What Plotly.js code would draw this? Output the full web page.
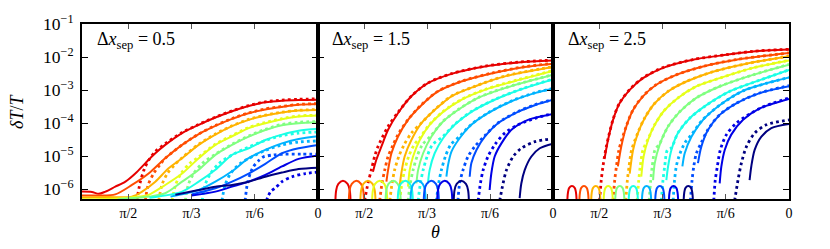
<!DOCTYPE html>
<html>
<head>
<meta charset="utf-8">
<script src="https://cdn.plot.ly/plotly-3.0.1.min.js"></script>
<style>html,body{margin:0;padding:0;background:#fff;}#chart{width:830px;height:249px;}</style>
</head>
<body>
<div id="chart"></div>
<script>
// ---------- tick labels / categories ----------
const thetaTickVals = [90, 60, 30, 0];          // degrees
const thetaTickText = ['π/2', 'π/3', 'π/6', '0'];
const sepLabels = ['0.5', '1.5', '2.5'];
const minorTickVals = [6e-7, 7e-7, 8e-7, 9e-7,
  2e-6, 3e-6, 4e-6, 5e-6, 6e-6, 7e-6, 8e-6, 9e-6,
  2e-5, 3e-5, 4e-5, 5e-5, 6e-5, 7e-5, 8e-5, 9e-5,
  2e-4, 3e-4, 4e-4, 5e-4, 6e-4, 7e-4, 8e-4, 9e-4,
  2e-3, 3e-3, 4e-3, 5e-3, 6e-3, 7e-3, 8e-3, 9e-3,
  2e-2, 3e-2, 4e-2, 5e-2, 6e-2, 7e-2, 8e-2, 9e-2];

// ---------- panel 1 (Δx_sep = 0.5) : theta in degrees, δT/T values ----------
const p1SolidT = [
  [112, 107.3, 104.1, 100.9, 96.2, 91.4, 86.7, 81.9, 77.2, 72.5, 64.5, 56.6, 48.7, 40.8, 32.9, 25.0, 17.1, 9.2, 0],
  [112, 104, 96.2, 88.3, 80.4, 72.5, 64.5, 56.6, 48.7, 40.8, 32.9, 25.0, 17.1, 9.2, 0],
  [112, 100, 88.3, 83.5, 77.2, 70.9, 64.5, 56.6, 48.7, 40.8, 32.9, 25.0, 17.1, 9.2, 0],
  [112, 95, 85, 80.4, 72.5, 64.5, 56.6, 48.7, 40.8, 32.9, 25.0, 17.1, 9.2, 0],
  [95, 80, 72.5, 64.5, 56.6, 48.7, 40.8, 32.9, 25.0, 17.1, 9.2, 0],
  [80, 64.5, 56.6, 48.7, 40.8, 32.9, 25.0, 17.1, 9.2, 0],
  [70, 56.6, 48.7, 40.8, 32.9, 25.0, 17.1, 9.2, 0],
  [60, 48.7, 40.8, 32.9, 25.0, 17.1, 9.2, 0],
  [60, 48.7, 40.8, 32.9, 25.0, 17.1, 9.2, 0],
  [67.7, 56.6, 48.7, 40.8, 32.9, 25.0, 17.1, 9.2, 0]
];
const p1SolidV = [
  [8.5e-7, 8.3e-7, 7.3e-7, 8.5e-7, 1.2e-6, 1.7e-6, 3.0e-6, 6.2e-6, 1.23e-5, 2.2e-5, 5.0e-5, 8.9e-5, 1.48e-4, 2.3e-4, 3.3e-4, 4.3e-4, 4.8e-4, 5.0e-4, 5.1e-4],
  [6.5e-7, 6.5e-7, 7.0e-7, 1.35e-6, 3.0e-6, 8.7e-6, 2.2e-5, 4.7e-5, 8.3e-5, 1.35e-4, 2.0e-4, 2.6e-4, 3.1e-4, 3.6e-4, 3.8e-4],
  [5.6e-7, 5.8e-7, 6.0e-7, 8.5e-7, 1.7e-6, 4.3e-6, 8.7e-6, 2.2e-5, 4.5e-5, 8.1e-5, 1.26e-4, 1.7e-4, 2.1e-4, 2.4e-4, 2.5e-4],
  [5.0e-7, 5.3e-7, 6.0e-7, 6.8e-7, 1.35e-6, 3.0e-6, 8.7e-6, 2.2e-5, 4.0e-5, 7.1e-5, 1.0e-4, 1.32e-4, 1.6e-4, 1.7e-4],
  [5.0e-7, 6.0e-7, 7.6e-7, 1.7e-6, 3.9e-6, 1.1e-5, 2.2e-5, 3.9e-5, 6.2e-5, 8.7e-5, 1.0e-4, 1.07e-4],
  [5.5e-7, 8.5e-7, 1.7e-6, 3.9e-6, 1.1e-5, 1.74e-5, 3.1e-5, 4.5e-5, 5.9e-5, 6.8e-5],
  [6.0e-7, 9.5e-7, 1.7e-6, 3.5e-6, 8.7e-6, 1.55e-5, 2.45e-5, 3.3e-5, 4.0e-5],
  [7.0e-7, 1.07e-6, 1.7e-6, 3.0e-6, 5.9e-6, 1.23e-5, 1.74e-5, 2.2e-5],
  [6.5e-7, 8.5e-7, 1.2e-6, 1.7e-6, 2.7e-6, 4.9e-6, 8.3e-6, 1.05e-5],
  [6.8e-7, 9.5e-7, 1.2e-6, 1.35e-6, 1.7e-6, 2.4e-6, 3.2e-6, 4.1e-6, 4.5e-6]
];
const p1DotT = [
  [86, 84.5, 82.5, 80.4, 77.2, 72.5, 64.5, 56.6, 48.7, 40.8, 32.9, 25.0, 17.1, 9.2, 0],
  [82, 80.5, 78, 75, 72.5, 64.5, 56.6, 48.7, 40.8, 32.9, 25.0, 17.1, 9.2, 0],
  [75.6, 74, 71.5, 68, 64.5, 56.6, 48.7, 40.8, 32.9, 25.0, 17.1, 9.2, 0],
  [69.3, 67.5, 65, 61, 56.6, 48.7, 40.8, 32.9, 25.0, 17.1, 9.2, 0],
  [63, 61.5, 59, 55, 48.7, 40.8, 32.9, 25.0, 17.1, 9.2, 0],
  [55, 53.5, 51, 47, 40.8, 32.9, 25.0, 17.1, 9.2, 0],
  [45.6, 44, 41.5, 37, 32.9, 25.0, 17.1, 9.2, 0],
  [34.6, 33.5, 32, 30.7, 28, 26, 21, 16.5, 8, 0],
  [24.5, 22.5, 20.2, 17.1, 12.3, 6, 0],
  []
];
const p1DotV = [
  [4.5e-7, 1.5e-6, 4.0e-6, 7.5e-6, 1.4e-5, 2.4e-5, 5.2e-5, 9.2e-5, 1.52e-4, 2.35e-4, 3.4e-4, 4.4e-4, 5.0e-4, 5.3e-4, 5.4e-4],
  [4.5e-7, 1.4e-6, 3.0e-6, 5.5e-6, 8.7e-6, 2.2e-5, 4.7e-5, 8.5e-5, 1.38e-4, 2.05e-4, 2.7e-4, 3.2e-4, 3.7e-4, 3.9e-4],
  [4.5e-7, 1.4e-6, 3.0e-6, 5.5e-6, 9.0e-6, 2.3e-5, 4.7e-5, 8.3e-5, 1.3e-4, 1.75e-4, 2.15e-4, 2.45e-4, 2.6e-4],
  [4.5e-7, 1.4e-6, 3.0e-6, 6.0e-6, 9.5e-6, 2.3e-5, 4.2e-5, 7.4e-5, 1.05e-4, 1.37e-4, 1.65e-4, 1.75e-4],
  [4.5e-7, 1.4e-6, 3.0e-6, 6.0e-6, 1.15e-5, 2.3e-5, 4.1e-5, 6.5e-5, 9.2e-5, 1.07e-4, 1.12e-4],
  [4.5e-7, 1.4e-6, 3.0e-6, 6.0e-6, 1.1e-5, 1.9e-5, 3.0e-5, 4.2e-5, 5.0e-5, 5.4e-5],
  [4.5e-7, 1.4e-6, 3.0e-6, 6.0e-6, 8.5e-6, 1.5e-5, 2.2e-5, 2.7e-5, 2.9e-5],
  [4.5e-7, 1.5e-6, 3.2e-6, 4.8e-6, 7.5e-6, 9.5e-6, 1.1e-5, 1.15e-5, 1.15e-5, 1.15e-5],
  [4.5e-7, 8.5e-7, 1.1e-6, 1.7e-6, 2.4e-6, 3.0e-6, 3.3e-6],
  []
];

// ---------- panel 2 (Δx_sep = 1.5) ----------
const p2SolidT = [
  [85.8, 84.2, 81.8, 78.6, 73.9, 67.5, 59.6, 48.4, 32.5, 16.7, 0],
  [79.4, 78.6, 77.0, 73.9, 69.1, 62.7, 54.8, 43.7, 29.4, 13.5, 0],
  [73.1, 72.3, 70.7, 67.5, 62.7, 56.4, 48.4, 37.3, 23.0, 0],
  [69.1, 68.3, 66.7, 63.5, 58.8, 52.4, 43.7, 32.5, 16.7, 0],
  [65.1, 64.3, 61.9, 58.0, 52.4, 45.3, 35.7, 23.0, 0],
  [59.6, 58.8, 56.4, 52.4, 46.9, 38.9, 27.8, 13.5, 0],
  [50.8, 50.0, 48.4, 44.5, 38.9, 31.0, 19.8, 8.7, 0],
  [39.7, 38.9, 36.5, 32.5, 26.2, 16.7, 8.7, 0],
  [30.2, 29.4, 27.8, 24.6, 19.8, 11.9, 0],
  [15.9, 15.1, 13.5, 10.3, 6.3, 0]
];
const p2SolidV = [
  [3.4e-6, 7.8e-6, 1.95e-5, 6.3e-5, 2.0e-4, 6.5e-4, 1.62e-3, 3.1e-3, 5.2e-3, 6.9e-3, 7.9e-3],
  [1.7e-6, 3.8e-6, 1.23e-5, 3.9e-5, 1.26e-4, 3.5e-4, 9.1e-4, 1.82e-3, 3.2e-3, 5.0e-3, 6.3e-3],
  [1.2e-6, 3.0e-6, 9.8e-6, 3.1e-5, 1.0e-4, 2.5e-4, 6.5e-4, 1.29e-3, 2.6e-3, 5.0e-3],
  [1.2e-6, 3.8e-6, 9.8e-6, 3.1e-5, 8.9e-5, 2.2e-4, 5.1e-4, 1.02e-3, 2.0e-3, 3.8e-3],
  [1.5e-6, 3.8e-6, 1.23e-5, 3.9e-5, 1.12e-4, 2.5e-4, 5.8e-4, 1.15e-3, 2.9e-3],
  [1.5e-6, 3.8e-6, 1.23e-5, 3.5e-5, 8.9e-5, 2.2e-4, 5.1e-4, 1.15e-3, 2.1e-3],
  [2.4e-6, 5.5e-6, 1.38e-5, 3.5e-5, 8.9e-5, 2.0e-4, 4.6e-4, 8.1e-4, 1.1e-3],
  [2.4e-6, 6.2e-6, 1.55e-5, 3.9e-5, 1.0e-4, 2.2e-4, 3.5e-4, 5.1e-4],
  [9.5e-7, 3.0e-6, 9.8e-6, 2.45e-5, 6.3e-5, 1.26e-4, 1.9e-4],
  [5.4e-7, 1.5e-6, 3.8e-6, 9.8e-6, 1.74e-5, 2.4e-5]
];
const p2DotT = [
  [89.8, 88.2, 86.6, 85.0, 83.4, 78.6, 73.9, 67.5, 59.6, 48.4, 32.5, 16.7, 0],
  [82.6, 81.5, 80.2, 78.6, 76.2, 73.9, 69.1, 62.7, 54.8, 43.7, 29.4, 13.5, 0],
  [77.8, 76.7, 75.5, 73.5, 71.0, 67.5, 62.7, 56.4, 48.4, 37.3, 23.0, 0],
  [73.1, 72.0, 70.7, 68.8, 66.2, 63.5, 58.8, 52.4, 43.7, 32.5, 16.7, 0],
  [69.1, 68.0, 66.7, 64.8, 62.3, 58.0, 52.4, 45.3, 35.7, 23.0, 0],
  [64.3, 63.2, 61.9, 60.0, 57.5, 52.4, 46.9, 38.9, 27.8, 13.5, 0],
  [55.6, 54.5, 53.2, 51.3, 48.8, 44.5, 38.9, 31.0, 19.8, 8.7, 0],
  [45.3, 44.5, 42.9, 40.5, 37.3, 32.5, 26.2, 16.7, 8.7, 0],
  [35.7, 34.6, 33.3, 31.0, 27.8, 23.0, 16.7, 8.7, 0],
  [25.4, 23.8, 22.2, 19.0, 15.1, 8.7, 0]
];
const p2DotV = [
  [4.5e-7, 1.5e-6, 3.8e-6, 9.8e-6, 1.95e-5, 8.0e-5, 2.1e-4, 6.6e-4, 1.65e-3, 3.15e-3, 5.3e-3, 7.0e-3, 8.1e-3],
  [4.5e-7, 1.5e-6, 3.8e-6, 9.8e-6, 2.2e-5, 4.5e-5, 1.28e-4, 3.6e-4, 9.3e-4, 1.85e-3, 3.25e-3, 5.1e-3, 6.4e-3],
  [4.5e-7, 1.5e-6, 3.8e-6, 9.8e-6, 2.2e-5, 5.0e-5, 1.02e-4, 2.55e-4, 6.6e-4, 1.3e-3, 2.65e-3, 5.1e-3],
  [4.5e-7, 1.5e-6, 3.8e-6, 9.8e-6, 2.2e-5, 3.6e-5, 9.2e-5, 2.25e-4, 5.2e-4, 1.04e-3, 2.05e-3, 3.9e-3],
  [4.5e-7, 1.5e-6, 3.8e-6, 9.8e-6, 2.2e-5, 4.3e-5, 1.15e-4, 2.55e-4, 5.9e-4, 1.17e-3, 2.95e-3],
  [4.5e-7, 1.5e-6, 3.8e-6, 9.8e-6, 2.2e-5, 4.0e-5, 9.2e-5, 2.25e-4, 5.2e-4, 1.17e-3, 2.15e-3],
  [4.5e-7, 1.5e-6, 3.8e-6, 9.8e-6, 2.2e-5, 4.0e-5, 9.2e-5, 2.05e-4, 4.7e-4, 8.3e-4, 1.12e-3],
  [4.5e-7, 1.5e-6, 3.8e-6, 9.8e-6, 1.95e-5, 4.2e-5, 1.02e-4, 2.25e-4, 3.6e-4, 5.2e-4],
  [4.5e-7, 1.5e-6, 3.8e-6, 9.8e-6, 2.2e-5, 5.0e-5, 8.9e-5, 1.4e-4, 1.95e-4],
  [4.5e-7, 1.5e-6, 3.8e-6, 9.8e-6, 1.74e-5, 2.75e-5, 3.4e-5]
];
const p2ArchT = [
  [103.7, 103.3, 102.3, 100.1, 97.9, 96.9, 96.5],
  [97.3, 96.9, 95.9, 93.7, 91.5, 90.5, 90.1],
  [91.8, 91.4, 90.4, 88.2, 86.0, 85.0, 84.6],
  [86.2, 85.8, 84.8, 82.6, 80.4, 79.4, 79.0],
  [79.8, 79.4, 78.4, 76.2, 74.0, 73.0, 72.6],
  [74.0, 73.6, 72.6, 70.4, 68.2, 67.2, 66.8],
  [67.9, 67.5, 66.5, 64.3, 62.1, 61.1, 60.7],
  [61.6, 61.2, 60.2, 58.0, 55.8, 54.8, 54.4],
  [55.2, 54.8, 53.8, 51.6, 49.4, 48.4, 48.0],
  [47.3, 46.9, 45.9, 43.7, 41.5, 40.5, 40.1]
];
const p2ArchV = [4.5e-7, 9.5e-7, 1.45e-6, 1.8e-6, 1.45e-6, 9.5e-7, 4.5e-7];

// ---------- panel 3 (Δx_sep = 2.5) ----------
const p3SolidT = [
  [87.5, 85.9, 83.5, 80.4, 75.6, 69.3, 59.8, 45.6, 29.7, 17.1, 0],
  [81.2, 79.6, 77.2, 74.0, 69.3, 63.0, 53.5, 40.8, 25.0, 0],
  [75.6, 74.0, 71.7, 68.5, 63.7, 57.4, 48.7, 36.1, 20.2, 0],
  [70.1, 69.0, 66.9, 63.7, 59.0, 52.7, 44.0, 32.9, 17.1, 0],
  [64.5, 63.7, 61.4, 57.4, 51.9, 44.0, 32.9, 17.1, 0],
  [58.2, 57.4, 55.8, 52.7, 47.1, 39.2, 28.2, 13.9, 0],
  [50.6, 49.5, 46.3, 40.8, 32.9, 21.8, 10.8, 0],
  [43.2, 41.6, 38.4, 32.9, 25.0, 13.9, 0],
  [32.9, 32.1, 30.5, 27.4, 21.8, 13.9, 0],
  [18.7, 17.9, 16.3, 13.1, 8.4, 0]
];
const p3SolidV = [
  [8.7e-6, 3.1e-5, 1.26e-4, 4.0e-4, 1.02e-3, 2.3e-3, 4.7e-3, 8.3e-3, 1.17e-2, 1.48e-2, 1.7e-2],
  [4.9e-6, 1.95e-5, 7.9e-5, 2.5e-4, 6.5e-4, 1.45e-3, 2.9e-3, 5.2e-3, 8.3e-3, 1.32e-2],
  [3.0e-6, 1.55e-5, 5.0e-5, 1.41e-4, 4.0e-4, 9.1e-4, 1.82e-3, 3.6e-3, 6.3e-3, 1.05e-2],
  [2.4e-6, 9.8e-6, 3.1e-5, 8.9e-5, 2.5e-4, 5.8e-4, 1.29e-3, 2.3e-3, 4.7e-3, 7.9e-3],
  [1.9e-6, 6.2e-6, 2.2e-5, 7.9e-5, 2.2e-4, 5.8e-4, 1.29e-3, 2.9e-3, 5.9e-3],
  [1.9e-6, 4.9e-6, 1.55e-5, 5.0e-5, 1.41e-4, 3.5e-4, 9.1e-4, 2.0e-3, 4.1e-3],
  [4.9e-6, 1.23e-5, 3.9e-5, 1.26e-4, 3.5e-4, 9.5e-4, 1.6e-3, 2.4e-3],
  [6.2e-6, 1.95e-5, 6.3e-5, 1.78e-4, 4.0e-4, 8.1e-4, 1.3e-3],
  [1.51e-6, 4.9e-6, 1.55e-5, 4.5e-5, 1.26e-4, 2.8e-4, 5.4e-4],
  [1.9e-6, 4.9e-6, 1.55e-5, 3.9e-5, 7.1e-5, 9.5e-5]
];
const p3DotT = [
  [89.9, 89.1, 88.3, 86.7, 83.5, 80.4, 75.6, 69.3, 59.8, 45.6, 29.7, 17.1, 0],
  [83.5, 82.7, 81.9, 80.7, 77.2, 74.0, 69.3, 63.0, 53.5, 40.8, 25.0, 0],
  [77.5, 76.7, 75.9, 74.7, 71.7, 68.5, 63.7, 57.4, 48.7, 36.1, 20.2, 0],
  [72.1, 71.3, 70.6, 69.3, 66.9, 63.7, 59.0, 52.7, 44.0, 32.9, 17.1, 0],
  [66.4, 65.6, 64.9, 63.6, 61.4, 57.4, 51.9, 44.0, 32.9, 17.1, 0],
  [60.6, 59.8, 59.0, 57.7, 55.8, 52.7, 47.1, 39.2, 28.2, 13.9, 0],
  [55.0, 54.3, 53.5, 52.2, 49.5, 46.3, 40.8, 32.9, 21.8, 10.8, 0],
  [46.8, 46.0, 45.2, 44.0, 41.6, 38.4, 32.9, 25.0, 13.9, 0],
  [35.7, 35.0, 34.0, 32.6, 29.7, 25.0, 13.9, 0],
  [25.8, 24.2, 22.6, 20.2, 16.3, 10.8, 0]
];
const p3DotV = [
  [4.5e-7, 1.9e-6, 4.9e-6, 1.95e-5, 1.3e-4, 4.1e-4, 1.04e-3, 2.35e-3, 4.8e-3, 8.4e-3, 1.18e-2, 1.49e-2, 1.72e-2],
  [4.5e-7, 1.9e-6, 4.9e-6, 1.55e-5, 8.2e-5, 2.55e-4, 6.6e-4, 1.47e-3, 2.9e-3, 5.2e-3, 8.4e-3, 1.33e-2],
  [4.5e-7, 1.9e-6, 4.9e-6, 1.55e-5, 5.2e-5, 1.44e-4, 4.0e-4, 9.2e-4, 1.83e-3, 3.6e-3, 6.3e-3, 1.06e-2],
  [4.5e-7, 1.9e-6, 4.9e-6, 1.55e-5, 3.3e-5, 9.1e-5, 2.5e-4, 5.8e-4, 1.3e-3, 2.3e-3, 4.7e-3, 8.0e-3],
  [4.5e-7, 1.9e-6, 4.9e-6, 1.55e-5, 2.4e-5, 8.0e-5, 2.2e-4, 5.8e-4, 1.3e-3, 2.9e-3, 6.0e-3],
  [4.5e-7, 1.9e-6, 4.9e-6, 1.55e-5, 1.8e-5, 5.1e-5, 1.42e-4, 3.5e-4, 9.1e-4, 2.0e-3, 4.1e-3],
  [4.5e-7, 1.9e-6, 4.9e-6, 1.0e-5, 2.5e-5, 4.5e-5, 1.3e-4, 3.5e-4, 9.5e-4, 1.6e-3, 2.4e-3],
  [4.5e-7, 1.9e-6, 4.9e-6, 1.2e-5, 2.6e-5, 6.5e-5, 1.8e-4, 4.0e-4, 8.2e-4, 1.36e-3],
  [4.5e-7, 1.9e-6, 4.9e-6, 1.55e-5, 4.5e-5, 1.0e-4, 2.8e-4, 5.8e-4],
  [4.5e-7, 1.9e-6, 6.2e-6, 1.95e-5, 5.0e-5, 8.9e-5, 1.26e-4]
];
const p3ArchT = [
  [105.2, 104.9, 104.3, 103.0, 101.7, 101.1, 100.8],
  [99.5, 99.2, 98.6, 97.3, 96.0, 95.4, 95.1],
  [93.9, 93.6, 93.0, 91.7, 90.4, 89.8, 89.5],
  [88.0, 87.7, 87.1, 85.8, 84.5, 83.9, 83.6],
  [82.5, 82.2, 81.6, 80.3, 79.0, 78.4, 78.1],
  [76.1, 75.8, 75.2, 73.9, 72.6, 72.0, 71.7],
  [69.8, 69.5, 68.9, 67.6, 66.3, 65.7, 65.4],
  [63.5, 63.2, 62.6, 61.3, 60.0, 59.4, 59.1],
  [57.0, 56.7, 56.1, 54.8, 53.5, 52.9, 52.6],
  [50.0, 49.7, 49.1, 47.8, 46.5, 45.9, 45.6]
];
const p3ArchV = [4.5e-7, 8.0e-7, 1.1e-6, 1.25e-6, 1.1e-6, 8.0e-7, 4.5e-7];

// ---------- styling ----------
const COLORS = ['#e60000', '#ff4d00', '#ffb300', '#e6ff1a', '#80ff80',
                '#1affe6', '#00b3ff', '#004dff', '#0000e6', '#000080'];
const FONT = '"Liberation Serif", "Times New Roman", Times, serif';

const panels = [
  {s: [p1SolidT, p1SolidV], d: [p1DotT, p1DotV], a: null},
  {s: [p2SolidT, p2SolidV], d: [p2DotT, p2DotV], a: [p2ArchT, p2ArchV]},
  {s: [p3SolidT, p3SolidV], d: [p3DotT, p3DotV], a: [p3ArchT, p3ArchV]}
];

const traces = [];
panels.forEach((P, pi) => {
  const xa = pi === 0 ? 'x' : 'x' + (pi + 1);
  const ya = pi === 0 ? 'y' : 'y' + (pi + 1);
  for (let c = 0; c < 10; c++) {
    if (P.a) {
      traces.push({x: P.a[0][c], y: P.a[1], xaxis: xa, yaxis: ya, mode: 'lines',
        line: {color: COLORS[c], width: 2, shape: 'spline', smoothing: 1}, hoverinfo: 'skip'});
    }
    if (P.d[0][c].length) {
      traces.push({x: P.d[0][c], y: P.d[1][c], xaxis: xa, yaxis: ya, mode: 'lines',
        line: {color: COLORS[c], width: 2.8, dash: '2.8px,3.2px', shape: 'spline', smoothing: 0.8}, hoverinfo: 'skip'});
    }
    traces.push({x: P.s[0][c], y: P.s[1][c], xaxis: xa, yaxis: ya, mode: 'lines',
      line: {color: COLORS[c], width: 2, shape: 'spline', smoothing: 0.8}, hoverinfo: 'skip'});
  }
});

const doms = [[0, 0.3338], [0.3338, 0.6662], [0.6662, 1]];
function xax(i) {
  return {domain: doms[i], range: [112, 0], anchor: i === 0 ? 'y' : 'y' + (i + 1),
    tickmode: 'array', tickvals: thetaTickVals, ticktext: thetaTickText,
    ticks: 'inside', ticklen: 5, tickwidth: 1, tickcolor: '#555', mirror: 'ticks',
    showline: true, linecolor: '#000', linewidth: 1.6, showgrid: false, zeroline: false,
    ticklabelstandoff: 1, tickfont: {family: FONT, size: 14, color: '#000'}};
}
function yax(i) {
  return {domain: [0, 1], type: 'log', range: [-6.294, -1], anchor: i === 0 ? 'x' : 'x' + (i + 1),
    tickmode: 'linear', tick0: 0, dtick: 1, exponentformat: 'power',
    showticklabels: i === 0, ticks: 'inside', ticklen: 6, tickwidth: 1, tickcolor: '#000', mirror: 'ticks',
    showline: true, linecolor: '#000', linewidth: 1.6, showgrid: false, zeroline: false,
    ticklabelstandoff: 4, tickfont: {family: FONT, size: 14, color: '#000'}};
}
// overlay axes carrying only the minor (2..9) ticks
function yminor(i) {
  return {domain: [0, 1], type: 'log', range: [-6.294, -1], anchor: i === 0 ? 'x' : 'x' + (i + 1),
    overlaying: i === 0 ? 'y' : 'y' + (i + 1),
    tickmode: 'array', tickvals: minorTickVals, showticklabels: false,
    ticks: 'inside', ticklen: 3, tickwidth: 0.8, tickcolor: '#000', mirror: 'ticks',
    showline: false, showgrid: false, zeroline: false};
}

const annX = [0.0184, 0.3508, 0.6846];
const annotations = sepLabels.map((s, i) => ({
  xref: 'paper', yref: 'paper', x: annX[i], y: 0.905, xanchor: 'left', yanchor: 'middle',
  showarrow: false, text: 'Δ<i>x</i><sub>sep</sub> = ' + s,
  font: {family: FONT, size: 18, color: '#000'}
}));
annotations.push({xref: 'paper', yref: 'paper', x: 0.5007, y: -0.19, xanchor: 'center', yanchor: 'middle',
  showarrow: false, text: '<i>θ</i>', font: {family: FONT, size: 18, color: '#000'}});
annotations.push({xref: 'paper', yref: 'paper', x: -0.092, y: 0.503, xanchor: 'center', yanchor: 'middle',
  showarrow: false, textangle: -90, text: '<i>δT</i>/<i>T</i>', font: {family: FONT, size: 18, color: '#000'}});

const layout = {
  width: 830, height: 249, margin: {l: 82, r: 41, t: 24, b: 50},
  paper_bgcolor: '#fff', plot_bgcolor: '#fff', showlegend: false,
  font: {family: FONT},
  xaxis: xax(0), xaxis2: xax(1), xaxis3: xax(2),
  yaxis: yax(0), yaxis2: yax(1), yaxis3: yax(2),
  yaxis4: yminor(0), yaxis5: yminor(1), yaxis6: yminor(2),
  annotations: annotations
};

Plotly.newPlot('chart', traces, layout, {staticPlot: true, displayModeBar: false});
</script>
</body>
</html>
